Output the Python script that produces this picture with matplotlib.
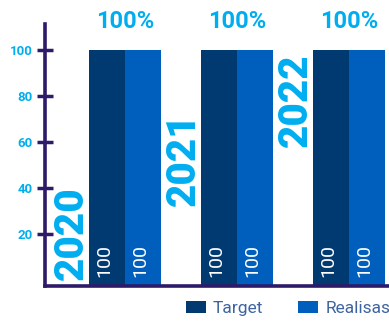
import matplotlib
matplotlib.use("Agg")
import matplotlib.pyplot as plt
import numpy as np

# ---- data ----
years = ["2020", "2021", "2022"]
target = [100, 100, 100]
realisasi = [100, 100, 100]
yticks = [20, 40, 60, 80, 100]
series_names = ["Target", "Realisasi"]

# ---- style / layout ----
c_target = "#013A71"
c_real = "#005EBD"
c_label = "#00AEEF"
c_axis = "#2D1B69"
c_legend = "#3D64A0"
FONT = "Roboto"
year_label_bottom = [0.2, 32.2, 57.8]  # layout only

fig = plt.figure(figsize=(3.89, 3.21), dpi=100)
ax = fig.add_axes([44.5 / 389, (321 - 285.7) / 321, (389 - 44.5) / 389, (285.7 - 24) / 321])

ymin, ymax = -2.3, 111.1
ax.set_ylim(ymin, ymax)
ax.set_xlim((44.5 - 125) / 112, (389 - 125) / 112)

x = np.arange(len(years))
w = 36 / 112
t_vals = np.array(target, dtype=float)
r_vals = np.array(realisasi, dtype=float)
ax.bar(x - w / 2, t_vals - ymin, w, bottom=ymin, color=c_target, label=series_names[0], zorder=2)
ax.bar(x + w / 2, r_vals - ymin, w, bottom=ymin, color=c_real, label=series_names[1], zorder=2)

# inside labels
for xi, tv, rv in zip(x, t_vals, r_vals):
    for xx, v in ((xi - w / 2, tv), (xi + w / 2, rv)):
        ax.annotate(f"{v:.0f}", (xx, 0), xytext=(-2, 2.5), textcoords="offset points",
                    rotation=90, ha="center", va="bottom", color="white",
                    fontsize=14, fontfamily=FONT, fontweight="normal", zorder=3)

# percentage labels above
for xi, tv, rv in zip(x, t_vals, r_vals):
    pct = rv / tv * 100
    ax.annotate(f"{pct:.0f}%", (xi, max(tv, rv)), xytext=(0, 20.5), textcoords="offset points",
                ha="center", va="center", color=c_label, fontsize=17,
                fontfamily=FONT, fontweight="bold", annotation_clip=False)

# year labels
for xi, yr, yb in zip(x, years, year_label_bottom):
    ax.text(xi - 0.478, yb, yr, rotation=90, ha="center", va="bottom", color=c_label,
            fontsize=29, fontfamily=FONT, fontweight="black", zorder=3)

# axes styling
for s in ["top", "right"]:
    ax.spines[s].set_visible(False)
for s in ["left", "bottom"]:
    ax.spines[s].set_color(c_axis)
    ax.spines[s].set_linewidth(2.6)
ax.set_xticks([])
ax.set_yticks(yticks)
ax.tick_params(axis="y", direction="inout", length=12, width=2.5, color=c_axis,
               pad=2.5, labelcolor=c_label, labelsize=9.5)
for lab in ax.get_yticklabels():
    lab.set_fontfamily(FONT)
    lab.set_fontweight("bold")

leg = fig.legend(loc="center left", bbox_to_anchor=(186 / 389, 1 - 308.5 / 321),
                 ncol=2, frameon=False, borderpad=0, borderaxespad=0,
                 handlelength=1.14, handleheight=0.66, handletextpad=0.42,
                 columnspacing=2.0, prop={"family": FONT, "size": 12.5})
for t in leg.get_texts():
    t.set_color(c_legend)

fig.savefig("out.png", dpi=100)
